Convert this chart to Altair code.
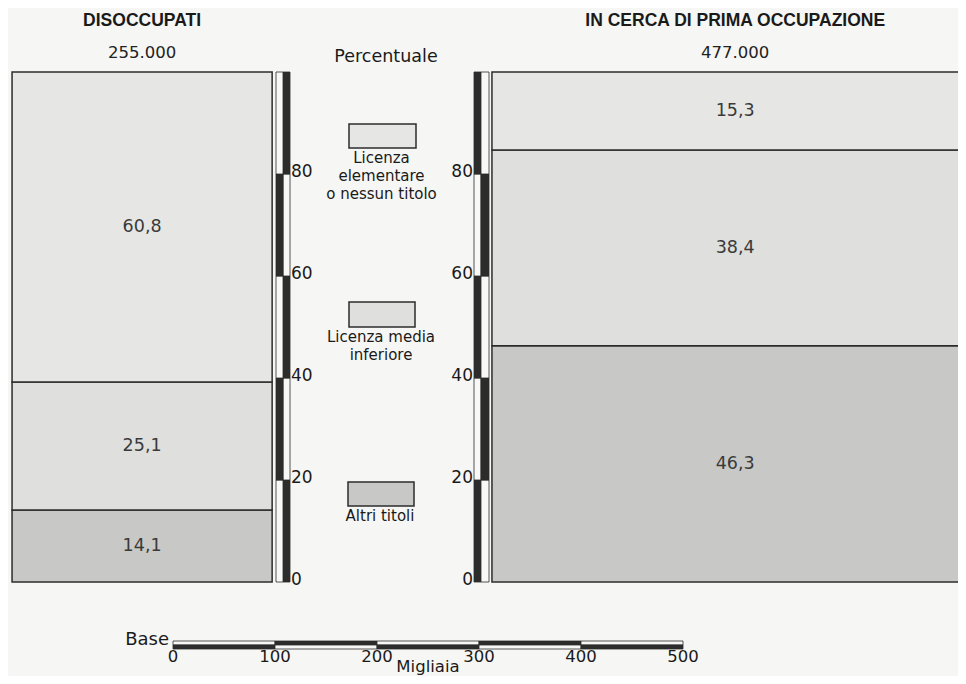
import altair as alt
import pandas as pd

# ---------------- data ----------------
groups = ["DISOCCUPATI", "IN CERCA DI PRIMA OCCUPAZIONE"]
totals_k = [255, 477]  # migliaia
# stacking order: bottom -> top
categories = ["Altri titoli", "Licenza media\ninferiore", "Licenza\nelementare\no nessun titolo"]
pct_disoccupati = [14.1, 25.1, 60.8]
pct_prima_occ = [46.3, 38.4, 15.3]
pct_ticks = [0, 20, 40, 60, 80, 100]
base_ticks = [0, 100, 200, 300, 400, 500]

colors = ["#c8c8c6", "#dfdfdd", "#e6e6e4"]
DARK = "#2c2c2c"
LIGHT = "#f8f8f6"
BG = "#f6f6f4"
FONT = "DejaVu Sans"
TITLE_FONT = "Liberation Sans"

# ---------------- layout ----------------
W, H = 950, 668           # whole page minus 8px margins
PX_PER_K = 1.02
ORIGIN_PX = 165           # chart px of 0 migliaia
X0 = -ORIGIN_PX / PX_PER_K
X1 = X0 + W / PX_PER_K
PX_PER_PCT = 5.1
ZERO_PX = 574             # chart px of 0 %
Y0 = -(H - ZERO_PX) / PX_PER_PCT
Y1 = ZERO_PX / PX_PER_PCT
bar_offsets_k = [-157.8, 312.7]

xscale = alt.Scale(domain=[X0, X1], range=[0, W], nice=False, zero=False)
yscale = alt.Scale(domain=[Y0, Y1], nice=False, zero=False)


def fmt_pct(v):
    return f"{v:.1f}".replace(".", ",")


# ---------------- bar table ----------------
rows = []
for g, tot, off, pcts in zip(groups, totals_k, bar_offsets_k, [pct_disoccupati, pct_prima_occ]):
    acc = 0.0
    for cat, p in zip(categories, pcts):
        rows.append(dict(group=g, cat=cat, x=off, x2=off + tot, y=acc, y2=acc + p,
                         xm=off + tot / 2, ym=acc + p / 2, label=fmt_pct(p)))
        acc += p
bars_df = pd.DataFrame(rows)

color_scale = alt.Scale(domain=categories, range=colors)

bars = alt.Chart(bars_df).mark_rect(stroke=DARK, strokeWidth=1.5, clip=True).encode(
    x=alt.X("x:Q", scale=xscale, axis=None),
    x2="x2:Q",
    y=alt.Y("y:Q", scale=yscale, axis=None),
    y2="y2:Q",
    fill=alt.Fill("cat:N", scale=color_scale, legend=None),
)

values = alt.Chart(bars_df).mark_text(font=FONT, fontSize=17.5, color="#3a3a3a").encode(
    x=alt.X("xm:Q", scale=xscale),
    y=alt.Y("ym:Q", scale=yscale),
    text="label:N",
)

# titles and totals
head_df = pd.DataFrame({
    "group": groups,
    "xm": [off + t / 2 for off, t in zip(bar_offsets_k, totals_k)],
    "total": [f"{t * 1000:,}".replace(",", ".") for t in totals_k],
})
titles = alt.Chart(head_df).mark_text(font=TITLE_FONT, fontWeight="bold", fontSize=17.5, color="#1a1a1a").encode(
    x=alt.X("xm:Q", scale=xscale), y=alt.value(13), text="group:N")
totals = alt.Chart(head_df).mark_text(font=FONT, fontSize=16.5, color="#222").encode(
    x=alt.X("xm:Q", scale=xscale), y=alt.value(45), text="total:N")

# ---------------- percent strips ----------------
strip_rows = []
for i in range(len(pct_ticks) - 1):
    outer_dark = (i % 2 == 0)
    for side, (o0, o1, i0, i1) in {"L": (275, 282, 268, 275), "R": (466, 473, 473, 481)}.items():
        strip_rows.append(dict(side=side, part="outer", px0=o0, px1=o1, y=pct_ticks[i], y2=pct_ticks[i + 1],
                               fill=DARK if outer_dark else LIGHT))
        strip_rows.append(dict(side=side, part="inner", px0=i0, px1=i1, y=pct_ticks[i], y2=pct_ticks[i + 1],
                               fill=LIGHT if outer_dark else DARK))
strip_df = pd.DataFrame(strip_rows)

strip_layers = []
for side in ["L", "R"]:
    for part in ["outer", "inner"]:
        sub = strip_df[(strip_df.side == side) & (strip_df.part == part)]
        p0, p1 = sub.px0.iloc[0], sub.px1.iloc[0]
        strip_layers.append(
            alt.Chart(sub).mark_rect(stroke=DARK, strokeWidth=0.8).encode(
                x=alt.value(p0), x2=alt.value(p1),
                y=alt.Y("y:Q", scale=yscale), y2="y2:Q",
                fill=alt.Fill("fill:N", scale=None),
            )
        )

tick_df = pd.DataFrame({"v": pct_ticks[:-1]})
left_labels = alt.Chart(tick_df).mark_text(font=FONT, fontSize=17, align="left", baseline="middle", dy=-2,
                                           color="#1a1a1a").encode(
    x=alt.value(283), y=alt.Y("v:Q", scale=yscale), text="v:N")
right_labels = alt.Chart(tick_df).mark_text(font=FONT, fontSize=17, align="right", baseline="middle", dy=-2,
                                            color="#1a1a1a").encode(
    x=alt.value(465), y=alt.Y("v:Q", scale=yscale), text="v:N")

perc_label = alt.Chart(pd.DataFrame({"t": ["Percentuale"]})).mark_text(
    font=FONT, fontSize=17.5, color="#1a1a1a").encode(x=alt.value(378), y=alt.value(49), text="t:N")

# ---------------- legend ----------------
legend_box = [(340, 406, 474, 498), (341, 407, 294, 319), (341, 408, 116, 140)]
legend_layers = []
for cat, col, (bx0, bx1, by0, by1) in zip(categories, colors, legend_box):
    ldf = pd.DataFrame({"cat": [cat]})
    legend_layers.append(
        alt.Chart(ldf).mark_rect(stroke=DARK, strokeWidth=1.5, fill=col).encode(
            x=alt.value(bx0), x2=alt.value(bx1), y=alt.value(by0), y2=alt.value(by1))
    )
    legend_layers.append(
        alt.Chart(ldf).mark_text(font=FONT, fontSize=15, baseline="top", lineBreak="\n",
                                 lineHeight=18, color="#1a1a1a").encode(
            x=alt.value((bx0 + bx1) / 2 - 1), y=alt.value(by1 + 3), text="cat:N")
    )

# ---------------- base scale bar ----------------
sb_rows = []
for j in range(len(base_ticks) - 1):
    sb_rows.append(dict(row="top", x=base_ticks[j], x2=base_ticks[j + 1], fill=LIGHT if j % 2 == 0 else DARK))
    sb_rows.append(dict(row="bot", x=base_ticks[j], x2=base_ticks[j + 1], fill=DARK if j % 2 == 0 else LIGHT))
sb_df = pd.DataFrame(sb_rows)
sb_layers = []
for row, (py0, py1) in {"top": (633, 637), "bot": (637, 641)}.items():
    sb_layers.append(
        alt.Chart(sb_df[sb_df.row == row]).mark_rect(stroke=DARK, strokeWidth=0.8).encode(
            x=alt.X("x:Q", scale=xscale), x2="x2:Q",
            y=alt.value(py0), y2=alt.value(py1),
            fill=alt.Fill("fill:N", scale=None))
    )
base_df = pd.DataFrame({"v": base_ticks})
base_labels = alt.Chart(base_df).mark_text(font=FONT, fontSize=16.5, color="#1a1a1a").encode(
    x=alt.X("v:Q", scale=xscale), y=alt.value(649), text="v:N")
base_word = alt.Chart(pd.DataFrame({"t": ["Base"]})).mark_text(
    font=FONT, fontSize=18, align="right", color="#1a1a1a").encode(
    x=alt.value(161), y=alt.value(632), text="t:N")
migliaia = alt.Chart(pd.DataFrame({"t": ["Migliaia"], "v": [sum(base_ticks) / len(base_ticks)]})).mark_text(
    font=FONT, fontSize=16.5, baseline="bottom", color="#1a1a1a").encode(
    x=alt.X("v:Q", scale=xscale), y=alt.value(667), text="t:N")

chart = alt.layer(
    bars, values, titles, totals, *strip_layers, left_labels, right_labels, perc_label,
    *legend_layers, *sb_layers, base_labels, base_word, migliaia,
).properties(
    width=W, height=H, padding=0, background=BG,
    autosize=alt.AutoSizeParams(type="none"),
).configure_view(stroke=None)

chart.save("out.html", embed_options={"renderer": "svg", "actions": False})
